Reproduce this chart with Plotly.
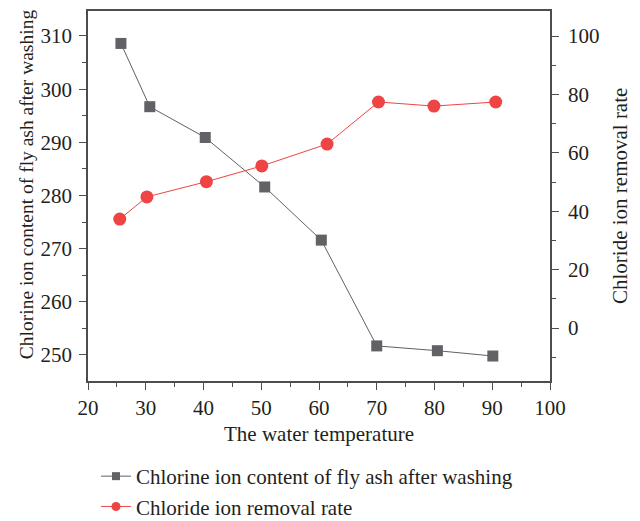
import plotly.graph_objects as go

# Data
temp_content = [25.7, 30.7, 40.3, 50.6, 60.4, 70.0, 80.5, 90.1]
chlorine_content = [308.6, 296.7, 290.9, 281.6, 271.6, 251.7, 250.8, 249.8]

temp_rate = [25.5, 30.2, 40.5, 50.1, 61.4, 70.3, 79.9, 90.6]
removal_rate = [37.3, 44.9, 50.1, 55.5, 63.0, 77.4, 76.0, 77.4]

name_content = "Chlorine ion content of fly ash after washing"
name_rate = "Chloride ion removal rate"
x_title = "The water temperature"

GRAY = "#616166"
RED = "#ee4444"
AXIS = "#4d4d4f"
TEXT = "#231f20"
FONT = "Liberation Serif"
FS = 21

# page body adds an 8px offset; the figure is sized to fit the window
W, H = 632, 513

fig = go.Figure()

fig.add_trace(go.Scatter(
    x=temp_content, y=chlorine_content, mode="lines+markers",
    line=dict(color=GRAY, width=1), marker=dict(symbol="square", size=11, color=GRAY),
    showlegend=False, yaxis="y", cliponaxis=False,
))
fig.add_trace(go.Scatter(
    x=temp_rate, y=removal_rate, mode="lines+markers",
    line=dict(color=RED, width=1), marker=dict(symbol="circle", size=13, color=RED),
    showlegend=False, yaxis="y2", cliponaxis=False,
))
# legend entries (smaller symbols as in the reference)
fig.add_trace(go.Scatter(
    x=[None], y=[None], mode="lines+markers", name=name_content,
    line=dict(color=GRAY, width=1), marker=dict(symbol="square", size=8, color=GRAY),
))
fig.add_trace(go.Scatter(
    x=[None], y=[None], mode="lines+markers", name=name_rate,
    line=dict(color=RED, width=1), marker=dict(symbol="circle", size=9, color=RED),
))

tickfont = dict(family=FONT, size=FS, color=TEXT)
titlefont = dict(family=FONT, size=FS, color=TEXT)

fig.update_layout(
    width=W, height=H,
    margin=dict(l=80, r=90, t=3, b=140, autoexpand=False),
    paper_bgcolor="white", plot_bgcolor="white",
    font=dict(family=FONT, size=FS, color=TEXT),
    xaxis=dict(
        range=[20, 100], tickmode="linear", tick0=20, dtick=10,
        ticks="outside", ticklen=7, tickwidth=1.3, tickcolor=AXIS,
        minor=dict(dtick=5, ticks="outside", ticklen=4, tickwidth=1.3, tickcolor=AXIS),
        showline=True, linecolor=AXIS, linewidth=1.5, mirror=True,
        showgrid=False, zeroline=False, tickfont=tickfont,
    ),
    yaxis=dict(
        range=[245.1, 314.7], tickmode="linear", tick0=250, dtick=10,
        ticks="outside", ticklen=7, tickwidth=1.3, tickcolor=AXIS,
        minor=dict(dtick=5, ticks="outside", ticklen=4, tickwidth=1.3, tickcolor=AXIS),
        showline=True, linecolor=AXIS, linewidth=1.5,
        showgrid=False, zeroline=False, tickfont=tickfont, ticklabelstandoff=3,
    ),
    yaxis2=dict(
        overlaying="y", side="right",
        range=[-18.15, 108.56], tickmode="linear", tick0=0, dtick=20,
        ticks="outside", ticklen=7, tickwidth=1.3, tickcolor=AXIS,
        minor=dict(dtick=10, ticks="outside", ticklen=4, tickwidth=1.3, tickcolor=AXIS),
        showline=True, linecolor=AXIS, linewidth=1.5,
        showgrid=False, zeroline=False, tickfont=tickfont, ticklabelstandoff=5,
    ),
    legend=dict(
        xref="container", x=88 / W, xanchor="left",
        yref="container", y=1 - 448 / H, yanchor="top",
        orientation="v", font=dict(family=FONT, size=FS, color=TEXT),
        bgcolor="rgba(0,0,0,0)", tracegroupgap=0, itemwidth=30,
    ),
    showlegend=True,
    annotations=[
        dict(text=x_title, xref="paper", yref="paper", x=0.5, y=0,
             xanchor="center", yanchor="middle", yshift=-53, showarrow=False,
             font=titlefont),
        dict(text=name_content, xref="paper", yref="paper", x=0, y=0.532,
             xanchor="center", yanchor="middle", xshift=-62, textangle=-90,
             showarrow=False, font=dict(family=FONT, size=19.5, color=TEXT)),
        dict(text=name_rate, xref="paper", yref="paper", x=1, y=0.5,
             xanchor="center", yanchor="middle", xshift=70, textangle=-90,
             showarrow=False, font=titlefont),
    ],
)

fig.write_html("out.html")
